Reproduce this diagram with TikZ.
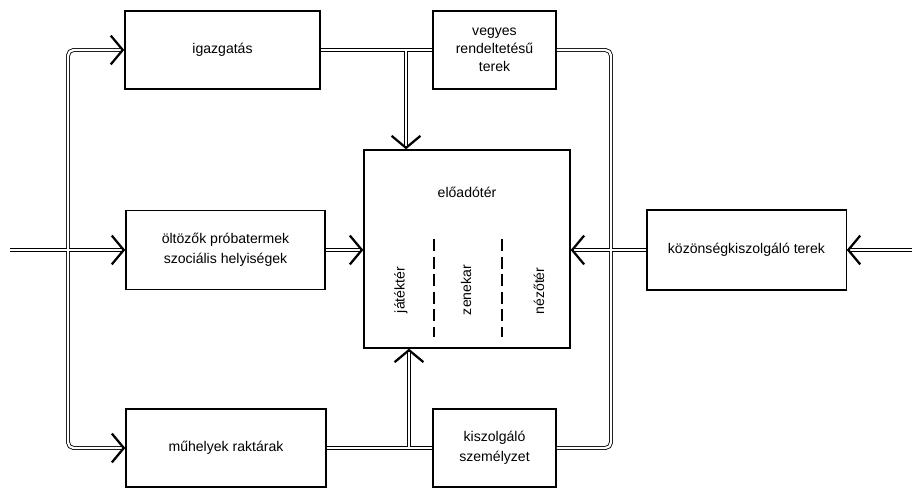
\documentclass[tikz,border=0pt]{standalone}
\usepackage{fontspec}
\setmainfont{Liberation Sans}
\usetikzlibrary{arrows.meta}
\begin{document}
\begin{tikzpicture}[x=0.025cm,y=-0.025cm,
        pipe/.style={double, line width=0.6pt, double distance=1.6pt, rounded corners=4pt},
        barb/.tip={Straight Barb[length=0.3cm,width=0.72cm,line width=1.6pt]},
        tip/.style={-barb},
        gap/.style={white, line width=1.6pt},
        room/.style={draw, line width=0.9pt, inner sep=0pt, align=center, font=\normalsize},
        divider/.style={line width=0.8pt, dash pattern=on 0.3cm off 0.14cm}]
        \useasboundingbox (0,0) rectangle (912,490);

        \node[room, minimum width=4.88cm, minimum height=1.95cm] (igaz) at (222.5,50) {igazgatás};
        \node[room, minimum width=3.08cm, minimum height=1.95cm] (vegyes) at (494.5,50) {vegyes\\[1pt] rendeltetésű\\[1pt] terek};
        \node[room, minimum width=5.15cm, minimum height=4.95cm] (eload) at (467,249) {};
        \node[room, minimum width=4.98cm, minimum height=1.98cm] (oltozo) at (225.5,250) {öltözők próbatermek\\[2pt] szociális helyiségek};
        \node[room, minimum width=4.98cm, minimum height=2.0cm] (kozon) at (746.5,250) {közönségkiszolgáló terek};
        \node[room, minimum width=5.0cm, minimum height=1.95cm] (muhely) at (226,448) {műhelyek raktárak};
        \node[room, minimum width=3.08cm, minimum height=1.95cm] (kiszolg) at (494.5,448) {kiszolgáló\\[2pt] személyzet};

        \node (eloadotxt) at (467,192) {előadótér};
        \node[rotate=90] (jatek) at (401,290) {játéktér};
        \node[rotate=90] (zene) at (466,290) {zenekar};
        \node[rotate=90] (nezo) at (539,291) {nézőtér};
        \draw[divider] (434,239) -- (434,337);
        \draw[divider] (502,239) -- (502,337);

        \coordinate (inL) at (10,250);
        \coordinate (inR) at (912,250);
        \coordinate (spineL) at (68,250);
        \coordinate (spineR) at (611,250);
        \coordinate (topj) at (406,50);
        \coordinate (botj) at (409,448);

        \draw[pipe, barb-barb] (igaz.west) -| (spineL) |- (muhely.west);
        \draw[pipe, tip] (inL) -- (oltozo.west);
        \draw[pipe, tip] (oltozo.east) -- (oltozo.east -| eload.west);
        \draw[pipe] (igaz.east) -- (vegyes.west);
        \draw[pipe, tip] (topj) -- (topj |- eload.north);
        \draw[pipe] (vegyes.east) -| (spineR) |- (kiszolg.east);
        \draw[pipe] (muhely.east) -- (kiszolg.west);
        \draw[pipe, tip] (botj) -- (botj |- eload.south);
        \draw[pipe, tip] (kozon.west) -- (kozon.west -| eload.east);
        \draw[pipe, tip] (inR) -- (kozon.east);

        % open up the joints
        \draw[gap] (spineL) ++(-8,0) -- ++(16,0);
        \draw[gap] (spineL) ++(0,-8) -- ++(0,16);
        \draw[gap] (spineR) ++(-8,0) -- ++(16,0);
        \draw[gap] (spineR) ++(0,-8) -- ++(0,16);
        \draw[gap] (topj) ++(-8,0) -- ++(16,0);
        \draw[gap] (topj) -- ++(0,8);
        \draw[gap] (botj) ++(-8,0) -- ++(16,0);
        \draw[gap] (botj) -- ++(0,-8);
\end{tikzpicture}
\end{document}
